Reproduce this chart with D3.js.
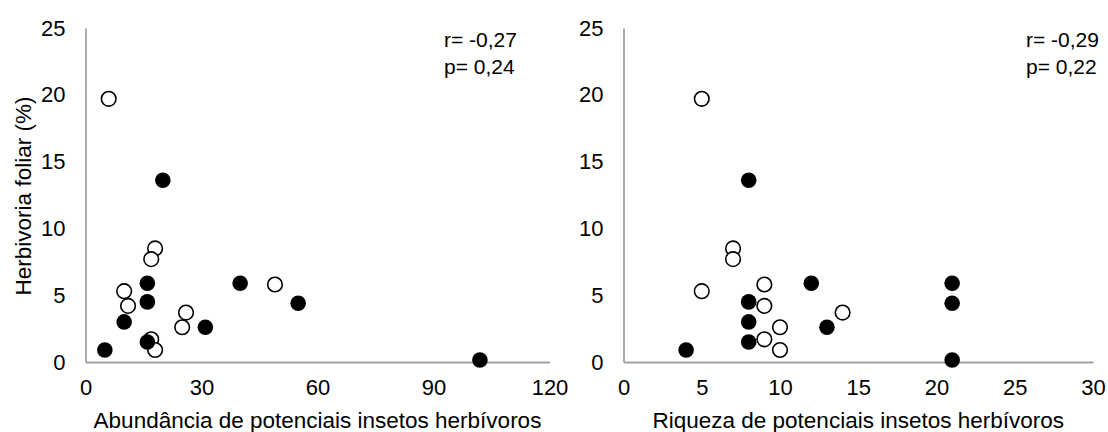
<!DOCTYPE html>
<html>
<head>
<meta charset="utf-8">
<script src="https://cdn.jsdelivr.net/npm/d3@7"></script>
<style>
  html, body { margin: 0; padding: 0; background: #fff; }
  svg { display: block; font-family: "Liberation Sans", Arial, sans-serif; }
</style>
</head>
<body>
<svg id="chart" width="1108" height="432"></svg>
<script>
// Leaf herbivory per site, with abundance and richness of potential herbivorous insects
const herbivoria = [19.7, 5.3, 4.2, 8.5, 7.7, 3.7, 2.6, 1.7, 0.9, 5.8,
                    0.9, 3.0, 5.9, 4.5, 1.5, 13.6, 2.6, 5.9, 4.4, 0.15];
const abundancia = [6, 10, 11, 18, 17, 26, 25, 17, 18, 49,
                    5, 10, 16, 16, 16, 20, 31, 40, 55, 102];
const riqueza    = [5, 5, 9, 7, 7, 14, 10, 9, 10, 9,
                    4, 8, 12, 8, 8, 8, 13, 21, 21, 21];
const preenchido = [false, false, false, false, false, false, false, false, false, false,
                    true, true, true, true, true, true, true, true, true, true];

const yTicks = [0, 5, 10, 15, 20, 25];
const xTicksAbund = [0, 30, 60, 90, 120];
const xTicksRiq = [0, 5, 10, 15, 20, 25, 30];

const panels = [
  { xVals: abundancia, xTicks: xTicksAbund, xMax: 120,
    xTitle: "Abundância de potenciais insetos herbívoros",
    stats: ["r= -0,27", "p= 0,24"], showYTitle: true,
    left: 85.5, right: 549.5, statX: 444 },
  { xVals: riqueza, xTicks: xTicksRiq, xMax: 30,
    xTitle: "Riqueza de potenciais insetos herbívoros",
    stats: ["r= -0,29", "p= 0,22"], showYTitle: false,
    left: 623.5, right: 1093, statX: 1026 }
];

const svg = d3.select("#chart");
const plotTop = 28, plotBottom = 362;
const axisColor = "#a0a0a0";
const tickFont = 22, titleFont = 22.5, statFont = 21;

panels.forEach(p => {
  const x = d3.scaleLinear().domain([0, p.xMax]).range([p.left, p.right]);
  const y = d3.scaleLinear().domain([0, 25]).range([plotBottom, plotTop]);
  const g = svg.append("g");

  // y axis: plain line, labels right-aligned
  const yAxis = d3.axisLeft(y).tickValues(yTicks).tickSize(0).tickPadding(20);
  const ya = g.append("g").attr("transform", `translate(${p.left},0)`).call(yAxis);
  ya.select(".domain").attr("stroke", axisColor).attr("stroke-width", 1.8);
  ya.selectAll("text").attr("font-size", tickFont).attr("fill", "#000")
    .attr("font-family", "Liberation Sans, Arial, sans-serif");

  // x axis
  const xAxis = d3.axisBottom(x).tickValues(p.xTicks).tickSize(0).tickPadding(17);
  const xa = g.append("g").attr("transform", `translate(0,${plotBottom})`).call(xAxis);
  xa.select(".domain").attr("stroke", axisColor).attr("stroke-width", 1.8);
  xa.selectAll("text").attr("font-size", tickFont).attr("fill", "#000")
    .attr("font-family", "Liberation Sans, Arial, sans-serif");

  // axis titles
  g.append("text")
    .attr("x", (p.left + p.right) / 2).attr("y", 428)
    .attr("text-anchor", "middle").attr("font-size", titleFont).attr("fill", "#000")
    .text(p.xTitle);
  if (p.showYTitle) {
    g.append("text")
      .attr("transform", `translate(30.5,196) rotate(-90)`)
      .attr("text-anchor", "middle").attr("font-size", titleFont).attr("fill", "#000")
      .text("Herbivoria foliar (%)");
  }

  // correlation statistics
  g.append("text").attr("x", p.statX).attr("y", 47)
    .attr("font-size", statFont).attr("fill", "#000").text(p.stats[0]);
  g.append("text").attr("x", p.statX).attr("y", 74)
    .attr("font-size", statFont).attr("fill", "#000").text(p.stats[1]);

  // sites: open and filled circles
  const pts = herbivoria.map((h, i) => ({ x: p.xVals[i], y: h, filled: preenchido[i] }));
  g.append("g").selectAll("circle").data(pts).join("circle")
    .attr("cx", d => x(d.x)).attr("cy", d => y(d.y))
    .attr("r", d => d.filled ? 7.8 : 7.3)
    .attr("fill", d => d.filled ? "#000" : "#fff")
    .attr("stroke", "#000")
    .attr("stroke-width", d => d.filled ? 0 : 1.6);
});
</script>
</body>
</html>
